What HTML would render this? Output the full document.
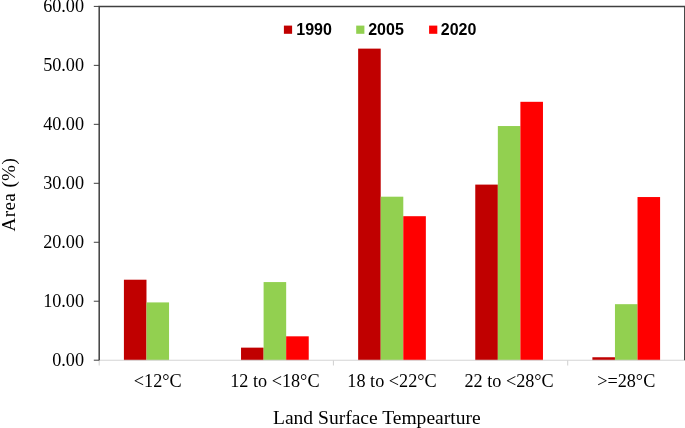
<!DOCTYPE html>
<html><head><meta charset="utf-8"><title>Chart</title>
<style>
html,body{margin:0;padding:0;background:#fff;}
body{width:685px;height:428px;overflow:hidden;}
svg{display:block;will-change:transform;}
text{fill:#000;}
.ser{font-family:"Liberation Serif",serif;}
.san{font-family:"Liberation Sans",sans-serif;font-weight:bold;}
</style></head><body>
<svg width="685" height="428" viewBox="0 0 685 428">
<rect x="0" y="0" width="685" height="428" fill="#fff"/>
<rect x="123.91" y="279.71" width="22.57" height="80.49" fill="#C00000"/>
<rect x="146.48" y="302.41" width="22.57" height="57.79" fill="#92D050"/>
<rect x="241.03" y="347.64" width="22.57" height="12.56" fill="#C00000"/>
<rect x="263.60" y="282.07" width="22.57" height="78.13" fill="#92D050"/>
<rect x="286.16" y="336.32" width="22.57" height="23.88" fill="#FF0000"/>
<rect x="358.15" y="48.62" width="22.57" height="311.58" fill="#C00000"/>
<rect x="380.72" y="196.69" width="22.57" height="163.51" fill="#92D050"/>
<rect x="403.28" y="216.20" width="22.57" height="144.00" fill="#FF0000"/>
<rect x="475.27" y="184.60" width="22.57" height="175.60" fill="#C00000"/>
<rect x="497.84" y="126.04" width="22.57" height="234.16" fill="#92D050"/>
<rect x="520.40" y="101.81" width="22.57" height="258.39" fill="#FF0000"/>
<rect x="592.39" y="357.25" width="22.57" height="2.95" fill="#C00000"/>
<rect x="614.96" y="304.18" width="22.57" height="56.02" fill="#92D050"/>
<rect x="637.52" y="197.04" width="22.57" height="163.16" fill="#FF0000"/>
<g stroke="#D4D4D4" stroke-width="1.1" fill="none">
<line x1="99.20" y1="360.20" x2="684.80" y2="360.20"/>
<line x1="99.20" y1="360.20" x2="99.20" y2="365.50"/>
<line x1="333.44" y1="360.20" x2="333.44" y2="365.50"/>
<line x1="567.68" y1="360.20" x2="567.68" y2="365.50"/>
</g>
<g stroke="#404040" stroke-width="1.5" fill="none">
<polyline points="99.20,360.20 99.20,6.40 684.80,6.40 684.80,360.20"/>
</g>
<g stroke="#404040" stroke-width="1" fill="none">
<line x1="93.80" y1="360.20" x2="99.20" y2="360.20"/>
<line x1="93.80" y1="301.23" x2="99.20" y2="301.23"/>
<line x1="93.80" y1="242.27" x2="99.20" y2="242.27"/>
<line x1="93.80" y1="183.30" x2="99.20" y2="183.30"/>
<line x1="93.80" y1="124.33" x2="99.20" y2="124.33"/>
<line x1="93.80" y1="65.37" x2="99.20" y2="65.37"/>
<line x1="93.80" y1="6.40" x2="99.20" y2="6.40"/>
</g>
<g class="ser" font-size="18.2" text-anchor="end">
<text x="84.05" y="365.95">0.00</text>
<text x="84.05" y="306.98">10.00</text>
<text x="84.05" y="248.02">20.00</text>
<text x="84.05" y="189.05">30.00</text>
<text x="84.05" y="130.08">40.00</text>
<text x="84.05" y="71.12">50.00</text>
<text x="84.05" y="12.15">60.00</text>
</g>
<g class="ser" font-size="18.2" text-anchor="middle">
<text x="157.76" y="387.2">&lt;12°C</text>
<text x="274.88" y="387.2">12 to &lt;18°C</text>
<text x="392.00" y="387.2">18 to &lt;22°C</text>
<text x="509.12" y="387.2">22 to &lt;28°C</text>
<text x="626.24" y="387.2">&gt;=28°C</text>
<text x="376.8" y="423.7" font-size="19.55">Land Surface Tempearture</text>
<text transform="translate(15.1,194.8) rotate(-90)" font-size="19.2" textLength="73.3" lengthAdjust="spacing">Area (%)</text>
</g>
<g class="san" font-size="16">
<rect x="283.90" y="25.6" width="8.2" height="8.2" fill="#C00000"/>
<text x="296.30" y="34.7">1990</text>
<rect x="356.20" y="25.6" width="8.2" height="8.2" fill="#92D050"/>
<text x="368.20" y="34.7">2005</text>
<rect x="429.10" y="25.6" width="8.2" height="8.2" fill="#FF0000"/>
<text x="440.80" y="34.7">2020</text>
</g>
</svg>
</body></html>
